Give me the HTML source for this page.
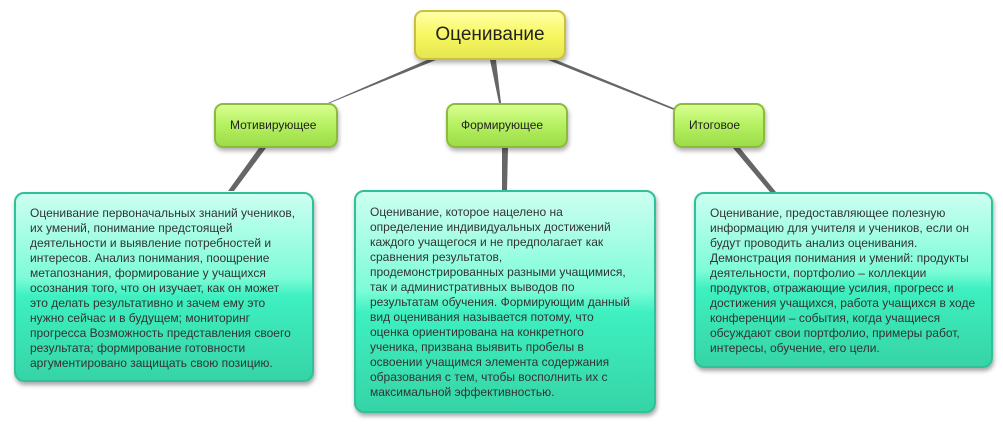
<!DOCTYPE html>
<html><head><meta charset="utf-8"><style>
body{margin:0;width:1003px;height:424px;background:#fff;position:relative;overflow:hidden;font-family:"Liberation Sans","DejaVu Sans",sans-serif;}
.n{position:absolute;box-sizing:border-box;border-radius:9px;color:#222;}
.root{left:414px;top:10px;width:152px;height:50px;background:linear-gradient(#ffffa8,#f7f760 50%,#e6e650);border:2px solid #c9c040;font-size:19px;line-height:46px;text-align:center;box-shadow:1px 3px 4px rgba(0,0,0,.3);}
.g{top:103px;height:45px;background:linear-gradient(#d8ff90,#b4f060 50%,#9edc48);border:2px solid #8cba3c;font-size:12px;line-height:41px;box-shadow:1px 3px 4px rgba(0,0,0,.3);}
.t{background:linear-gradient(#ccfff0,#7dfcd8 45%,#3ef0c0 55%,#36d4a6);border:2px solid #30c09a;font-size:12px;line-height:15px;color:#333;padding:12px 0 0 14px;box-shadow:1px 3px 4px rgba(0,0,0,.35);border-radius:10px;}
svg{position:absolute;left:0;top:0;}
</style></head><body>
<svg width="1003" height="424">
<g fill="#666">
<polygon points="427,60 436,60 330,103 328,103"/>
<polygon points="490,60 496,60 501,103 499,103"/>
<polygon points="548,60 556,60 676,109 674,110"/>
<polygon points="259,148 266,148 234,191 228,191"/>
<polygon points="502,148 508,148 507,191 502,191"/>
<polygon points="733,148 740,148 776,192 770,192"/>
</g>
</svg>
<div class="n root">Оценивание</div>
<div class="n g" style="left:214px;width:124px;padding-left:14px;">Мотивирующее</div>
<div class="n g" style="left:446px;width:122px;padding-left:13px;">Формирующее</div>
<div class="n g" style="left:673px;width:92px;padding-left:14px;">Итоговое</div>
<div class="n t" style="left:14px;top:192px;width:300px;height:190px;">Оценивание первоначальных знаний учеников,<br>их умений, понимание предстоящей<br>деятельности и выявление потребностей и<br>интересов. Анализ понимания, поощрение<br>метапознания, формирование у учащихся<br>осознания того, что он изучает, как он может<br>это делать результативно и зачем ему это<br>нужно сейчас и в будущем; мониторинг<br>прогресса Возможность представления своего<br>результата; формирование готовности<br>аргументировано защищать свою позицию.</div>
<div class="n t" style="left:354px;top:190px;width:302px;height:223px;padding-top:13px;">Оценивание, которое нацелено на<br>определение индивидуальных достижений<br>каждого учащегося и не предполагает как<br>сравнения результатов,<br>продемонстрированных разными учащимися,<br>так и административных выводов по<br>результатам обучения. Формирующим данный<br>вид оценивания называется потому, что<br>оценка ориентирована на конкретного<br>ученика, призвана выявить пробелы в<br>освоении учащимся элемента содержания<br>образования с тем, чтобы восполнить их с<br>максимальной эффективностью.</div>
<div class="n t" style="left:694px;top:192px;width:299px;height:176px;">Оценивание, предоставляющее полезную<br>информацию для учителя и учеников, если он<br>будут проводить анализ оценивания.<br>Демонстрация понимания и умений: продукты<br>деятельности, портфолио – коллекции<br>продуктов, отражающие усилия, прогресс и<br>достижения учащихся, работа учащихся в ходе<br>конференции – события, когда учащиеся<br>обсуждают свои портфолио, примеры работ,<br>интересы, обучение, его цели.</div>
</body></html>
